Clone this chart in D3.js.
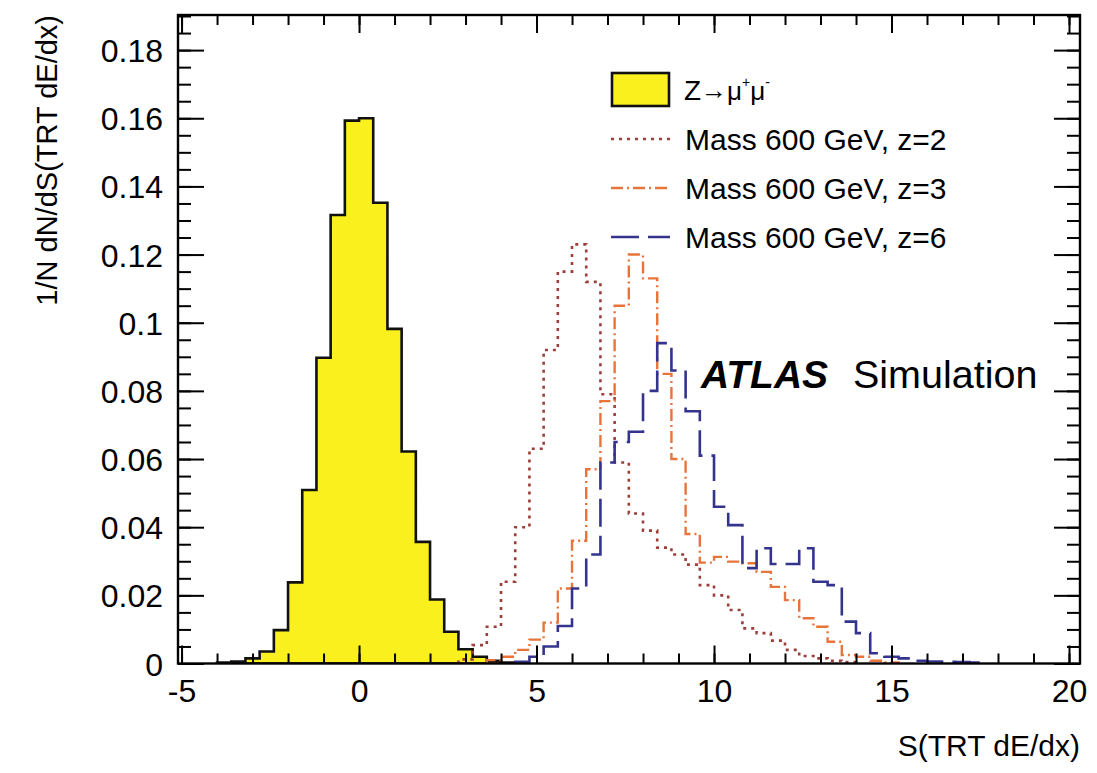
<!DOCTYPE html>
<html>
<head>
<meta charset="utf-8">
<script src="https://cdn.jsdelivr.net/npm/d3@7"></script>
<style>
  html, body { margin: 0; padding: 0; background: #fff; }
  svg text { font-family: "Liberation Sans", Arial, Helvetica, sans-serif; fill: #000; }
</style>
</head>
<body>
<svg id="chart" width="1097" height="773"></svg>
<script>
// ---- histogram content (bin width 0.4 in S) ----
const binWidth = 0.4;

// Z -> mu+ mu- (filled)
const zmumuStart = -4.0;
const zmumuValues = [0.0003, 0.0006, 0.0015, 0.0035, 0.0098, 0.0238, 0.0509, 0.0897,
  0.1316, 0.1593, 0.1600, 0.1352, 0.0982, 0.0622, 0.0357, 0.0188, 0.0093, 0.0042,
  0.0020, 0.0008, 0.0003];

// Mass 600 GeV, z=2
const z2Start = 2.8;
const z2Values = [0.0012, 0.0054, 0.0108, 0.024, 0.040, 0.063, 0.092, 0.115, 0.123,
  0.112, 0.079, 0.059, 0.044, 0.039, 0.034, 0.032, 0.029, 0.023, 0.020, 0.0157,
  0.0103, 0.0089, 0.0067, 0.0040, 0.0022, 0.0015, 0.0008, 0.0004];

// Mass 600 GeV, z=3
const z3Start = 3.6;
const z3Values = [0.001, 0.002, 0.004, 0.007, 0.012, 0.022, 0.036, 0.057, 0.077,
  0.105, 0.120, 0.113, 0.085, 0.060, 0.038, 0.0296, 0.0313, 0.0299, 0.0294, 0.0269,
  0.0225, 0.0186, 0.0133, 0.0108, 0.0064, 0.0025, 0.0020, 0.0008, 0.0003];

// Mass 600 GeV, z=6
const z6Start = 4.4;
const z6Values = [0.0005, 0.002, 0.005, 0.011, 0.022, 0.032, 0.059, 0.065, 0.068,
  0.080, 0.094, 0.086, 0.074, 0.061, 0.046, 0.0406, 0.028, 0.0338, 0.0292, 0.0292,
  0.0338, 0.024, 0.023, 0.0123, 0.0089, 0.003, 0.002, 0.0015, 0.0008, 0.0006,
  0.0005, 0.0004, 0.0003];

// ---- axes ----
const xMajorTicks = [-5, 0, 5, 10, 15, 20];
const xMinorTicks = d3.range(-5, 21, 1);
const yMajorTicks = [0, 0.02, 0.04, 0.06, 0.08, 0.1, 0.12, 0.14, 0.16, 0.18];
const yMinorTicks = d3.range(0, 0.1901, 0.005);
const xTitle = "S(TRT dE/dx)";
const yTitle = "1/N dN/dS(TRT dE/dx)";

const legendLabels = ["Mass 600 GeV, z=2", "Mass 600 GeV, z=3", "Mass 600 GeV, z=6"];

// ---- layout ----
const svg = d3.select("#chart");
const pL = 178, pR = 1080, pT = 15, pB = 663.5;

const x = d3.scaleLinear().domain([-5.1, 20.31]).range([pL, pR]);
const y = d3.scaleLinear().domain([0, 0.1903]).range([pB, pT]);

svg.append("defs").append("clipPath").attr("id", "plotclip")
  .append("rect").attr("x", pL).attr("y", pT)
  .attr("width", pR - pL).attr("height", pB - pT);

// step outline of a histogram
function stepPoints(start, values) {
  const pts = [[start, 0]];
  values.forEach((v, i) => {
    const lo = start + i * binWidth, hi = lo + binWidth;
    pts.push([lo, v], [hi, v]);
  });
  pts.push([start + values.length * binWidth, 0]);
  return pts;
}
const line = d3.line().x(d => x(d[0])).y(d => y(d[1]));

const plot = svg.append("g").attr("clip-path", "url(#plotclip)");

const series = [
  { start: z2Start, values: z2Values, color: "#9c3f3a", dash: "3,5", width: 2.6 },
  { start: z3Start, values: z3Values, color: "#e8743b", dash: "12,4,2,4", width: 2.4 },
  { start: z6Start, values: z6Values, color: "#34348f", dash: "28,9", width: 2.6 }
];

// filled Z -> mu mu
plot.append("path")
  .attr("d", line(stepPoints(zmumuStart, zmumuValues)) + "Z")
  .attr("fill", "#f9f01e").attr("stroke", "#111").attr("stroke-width", 2.6)
  .attr("stroke-linejoin", "miter");

series.forEach(s => {
  plot.append("path")
    .attr("d", line(stepPoints(s.start, s.values)))
    .attr("fill", "none").attr("stroke", s.color)
    .attr("stroke-width", s.width).attr("stroke-dasharray", s.dash);
});

// ---- axes with inward ticks on all four sides ----
function styleAxis(g) {
  g.select(".domain").remove();
  g.selectAll(".tick line").attr("stroke", "#000").attr("stroke-width", 2);
}
const fmtX = d => String(d);
const fmtY = d => d === 0 ? "0" : String(+d.toFixed(2));

svg.append("g").attr("transform", `translate(0,${pB})`)
  .call(d3.axisBottom(x).tickValues(xMinorTicks).tickSize(-10).tickFormat(""))
  .call(styleAxis);
svg.append("g").attr("transform", `translate(0,${pB})`)
  .call(d3.axisBottom(x).tickValues(xMajorTicks).tickSize(-18).tickFormat(fmtX))
  .call(styleAxis)
  .call(g => g.selectAll("text").attr("font-size", 32).attr("dy", "0.71em").attr("y", 16));
svg.append("g").attr("transform", `translate(0,${pT})`)
  .call(d3.axisTop(x).tickValues(xMinorTicks).tickSize(-10).tickFormat(""))
  .call(styleAxis);
svg.append("g").attr("transform", `translate(0,${pT})`)
  .call(d3.axisTop(x).tickValues(xMajorTicks).tickSize(-18).tickFormat(""))
  .call(styleAxis);

svg.append("g").attr("transform", `translate(${pL},0)`)
  .call(d3.axisLeft(y).tickValues(yMinorTicks).tickSize(-13).tickFormat(""))
  .call(styleAxis);
svg.append("g").attr("transform", `translate(${pL},0)`)
  .call(d3.axisLeft(y).tickValues(yMajorTicks).tickSize(-26).tickPadding(15).tickFormat(fmtY))
  .call(styleAxis)
  .call(g => g.selectAll("text").attr("font-size", 32).attr("dy", "0.36em"));
svg.append("g").attr("transform", `translate(${pR},0)`)
  .call(d3.axisRight(y).tickValues(yMinorTicks).tickSize(-13).tickFormat(""))
  .call(styleAxis);
svg.append("g").attr("transform", `translate(${pR},0)`)
  .call(d3.axisRight(y).tickValues(yMajorTicks).tickSize(-26).tickFormat(""))
  .call(styleAxis);

// frame
svg.append("rect").attr("x", pL).attr("y", pT)
  .attr("width", pR - pL).attr("height", pB - pT)
  .attr("fill", "none").attr("stroke", "#000").attr("stroke-width", 2.4);

// axis titles
svg.append("text").attr("x", pR).attr("y", 756)
  .attr("text-anchor", "end").attr("font-size", 30).text(xTitle);
svg.append("text").attr("transform", `translate(57,${pT}) rotate(-90)`)
  .attr("text-anchor", "end").attr("font-size", 29).text(yTitle);

// ---- legend ----
const lg = svg.append("g");
const lx0 = 611, lx1 = 670, ltx = 684;
lg.append("rect").attr("x", lx0 + 1).attr("y", 73).attr("width", lx1 - lx0 - 2).attr("height", 33)
  .attr("fill", "#f9f01e").attr("stroke", "#111").attr("stroke-width", 2.6);
const zt = lg.append("text").attr("x", ltx).attr("y", 100).attr("font-size", 28);
zt.append("tspan").text("Z");
zt.append("tspan").attr("font-size", 26).attr("dy", -1).text("→");
zt.append("tspan").attr("font-size", 26).attr("dy", 1).text("μ");
zt.append("tspan").attr("font-size", 14).attr("dy", -13).text("+");
zt.append("tspan").attr("font-size", 26).attr("dy", 13).text("μ");
zt.append("tspan").attr("font-size", 14).attr("dy", -13).text("-");

const legendY = [139, 188, 237];
series.forEach((s, i) => {
  lg.append("line").attr("x1", lx0).attr("x2", lx1)
    .attr("y1", legendY[i]).attr("y2", legendY[i])
    .attr("stroke", s.color).attr("stroke-width", s.width).attr("stroke-dasharray", s.dash);
  lg.append("text").attr("x", ltx + 1).attr("y", legendY[i] + 11)
    .attr("font-size", 30).text(legendLabels[i]);
});

// experiment label
svg.append("text").attr("x", 701).attr("y", 388).attr("font-size", 39)
  .attr("font-weight", "bold").attr("font-style", "italic").text("ATLAS");
svg.append("text").attr("x", 853).attr("y", 388).attr("font-size", 39.5).text("Simulation");
</script>
</body>
</html>
